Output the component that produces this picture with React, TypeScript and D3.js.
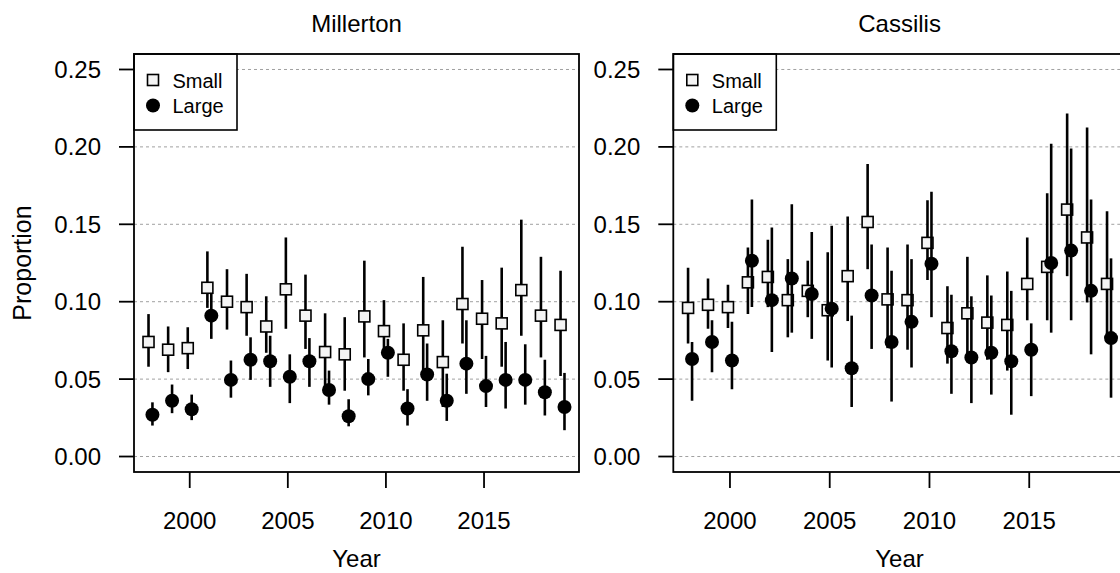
import React from "react";
import { scaleLinear } from "d3";

const years = [1998, 1999, 2000, 2001, 2002, 2003, 2004, 2005, 2006, 2007, 2008, 2009, 2010, 2011, 2012, 2013, 2014, 2015, 2016, 2017, 2018, 2019];

// Millerton
const millSmall = [0.074, 0.069, 0.070, 0.109, 0.100, 0.0965, 0.084, 0.108, 0.091, 0.0675, 0.066, 0.0905, 0.081, 0.0625, 0.0815, 0.061, 0.0985, 0.089, 0.086, 0.1075, 0.091, 0.085];
const millSmallLo = [0.058, 0.0545, 0.0565, 0.096, 0.082, 0.078, 0.067, 0.0825, 0.0695, 0.0425, 0.0425, 0.064, 0.067, 0.0425, 0.0535, 0.032, 0.073, 0.063, 0.058, 0.078, 0.064, 0.052];
const millSmallHi = [0.092, 0.084, 0.0835, 0.1325, 0.121, 0.118, 0.1035, 0.1415, 0.1175, 0.0925, 0.090, 0.1265, 0.101, 0.086, 0.116, 0.088, 0.1355, 0.114, 0.122, 0.153, 0.129, 0.120];
const millLarge = [0.027, 0.036, 0.0305, 0.091, 0.0495, 0.0625, 0.0615, 0.0515, 0.0615, 0.043, 0.026, 0.050, 0.067, 0.031, 0.053, 0.036, 0.060, 0.0455, 0.0495, 0.0495, 0.0415, 0.032];
const millLargeLo = [0.020, 0.028, 0.0235, 0.076, 0.038, 0.0495, 0.045, 0.0345, 0.045, 0.0335, 0.0195, 0.0395, 0.0515, 0.020, 0.036, 0.023, 0.0405, 0.032, 0.031, 0.0335, 0.0265, 0.017];
const millLargeHi = [0.035, 0.0465, 0.040, 0.105, 0.062, 0.077, 0.078, 0.066, 0.0765, 0.0555, 0.037, 0.063, 0.076, 0.0435, 0.073, 0.0535, 0.088, 0.065, 0.074, 0.0725, 0.0625, 0.054];

// Cassilis
const cassSmall = [0.096, 0.098, 0.0965, 0.1125, 0.116, 0.101, 0.107, 0.0945, 0.1165, 0.1515, 0.1015, 0.101, 0.138, 0.083, 0.0925, 0.0865, 0.085, 0.1115, 0.1225, 0.1595, 0.1415, 0.1115];
const cassSmallLo = [0.073, 0.0825, 0.083, 0.092, 0.0965, 0.077, 0.090, 0.062, 0.0875, 0.121, 0.070, 0.069, 0.114, 0.060, 0.061, 0.0625, 0.0555, 0.088, 0.088, 0.1165, 0.0995, 0.074];
const cassSmallHi = [0.122, 0.115, 0.111, 0.135, 0.140, 0.1275, 0.1265, 0.132, 0.155, 0.189, 0.135, 0.137, 0.1655, 0.110, 0.129, 0.117, 0.1195, 0.1415, 0.170, 0.2215, 0.2125, 0.1585];
const cassLarge = [0.063, 0.074, 0.062, 0.1265, 0.101, 0.115, 0.105, 0.0955, 0.057, 0.104, 0.074, 0.087, 0.1245, 0.068, 0.064, 0.067, 0.0615, 0.069, 0.125, 0.133, 0.107, 0.0765];
const cassLargeLo = [0.036, 0.0545, 0.0435, 0.0965, 0.0675, 0.080, 0.076, 0.0575, 0.032, 0.0695, 0.0355, 0.0575, 0.090, 0.0405, 0.0345, 0.040, 0.027, 0.039, 0.080, 0.088, 0.066, 0.038];
const cassLargeHi = [0.074, 0.088, 0.087, 0.166, 0.148, 0.163, 0.145, 0.149, 0.091, 0.137, 0.120, 0.1275, 0.171, 0.1045, 0.1035, 0.104, 0.107, 0.086, 0.202, 0.199, 0.166, 0.128];

const yTicks = [0, 0.05, 0.1, 0.15, 0.2, 0.25];
const xTicks = [2000, 2005, 2010, 2015];
const legendLabels = ["Small", "Large"];

const FONT = "'Liberation Sans', Arial, sans-serif";

function Panel({ title, left, right, small, smallLo, smallHi, large, largeLo, largeHi, yLabel }) {
    const top = 54;
    const bottom = 472;
    const x = scaleLinear().domain([1997.16, 2019.84]).range([left, right]);
    const y = scaleLinear().domain([-0.01, 0.26]).range([bottom, top]);
    const cx = (left + right) / 2;
    const off = 0.1;

    return (
        <g fontFamily={FONT} fill="#000">
            <defs>
                <clipPath id={`clip-${title}`}>
                    <rect x={left} y={top} width={right - left} height={bottom - top} />
                </clipPath>
            </defs>

            {/* grid */}
            {yTicks.map(t => (
                <line key={`g${t}`} x1={left} x2={right} y1={y(t)} y2={y(t)}
                    stroke="#a0a0a0" strokeWidth={1} strokeDasharray="3,3" />
            ))}

            <g clipPath={`url(#clip-${title})`}>
                {years.map((yr, i) => (
                    <g key={`s${yr}`}>
                        <line x1={x(yr - off)} x2={x(yr - off)} y1={y(smallLo[i])} y2={y(smallHi[i])}
                            stroke="#000" strokeWidth={2.6} />
                        <rect x={x(yr - off) - 5.5} y={y(small[i]) - 5.5} width={11} height={11}
                            fill="#f4f4f4" stroke="#000" strokeWidth={1.6} />
                    </g>
                ))}
                {years.map((yr, i) => (
                    <g key={`l${yr}`}>
                        <line x1={x(yr + off)} x2={x(yr + off)} y1={y(largeLo[i])} y2={y(largeHi[i])}
                            stroke="#000" strokeWidth={2.6} />
                        <circle cx={x(yr + off)} cy={y(large[i])} r={7} fill="#000" />
                    </g>
                ))}
            </g>

            {/* legend */}
            <rect x={left} y={top} width={103} height={76} fill="#fff" stroke="#000" strokeWidth={1.6} />
            <rect x={left + 13.5} y={74.5} width={11} height={11} fill="#f4f4f4" stroke="#000" strokeWidth={1.6} />
            <circle cx={left + 19} cy={105.5} r={7} fill="#000" />
            <text x={left + 38.5} y={87.5} fontSize={20}>{legendLabels[0]}</text>
            <text x={left + 38.5} y={112.5} fontSize={20}>{legendLabels[1]}</text>

            {/* box */}
            <rect x={left} y={top} width={right - left} height={bottom - top} fill="none" stroke="#000" strokeWidth={1.8} />

            {/* y axis */}
            {yTicks.map(t => (
                <g key={`y${t}`}>
                    <line x1={left - 15} x2={left} y1={y(t)} y2={y(t)} stroke="#000" strokeWidth={1.8} />
                    <text x={left - 33} y={y(t) + 8.5} fontSize={24} textAnchor="end">{t.toFixed(2)}</text>
                </g>
            ))}

            {/* x axis */}
            {xTicks.map(t => (
                <g key={`x${t}`}>
                    <line x1={x(t)} x2={x(t)} y1={bottom} y2={bottom + 16} stroke="#000" strokeWidth={1.8} />
                    <text x={x(t)} y={528.5} fontSize={24} textAnchor="middle">{t}</text>
                </g>
            ))}

            <text x={cx} y={31.5} fontSize={24} textAnchor="middle">{title}</text>
            <text x={cx} y={567} fontSize={24} textAnchor="middle">Year</text>
            {yLabel ? (
                <text transform={`translate(31, ${(top + bottom) / 2}) rotate(-90)`} fontSize={25} textAnchor="middle">{yLabel}</text>
            ) : null}
        </g>
    );
}

export default function App() {
    return (
        <svg width={1120} height={573} style={{ position: "absolute", left: 0, top: 0, background: "#fff" }}>
            <rect width={1120} height={573} fill="#fff" />
            <Panel title="Millerton" left={134} right={579}
                small={millSmall} smallLo={millSmallLo} smallHi={millSmallHi}
                large={millLarge} largeLo={millLargeLo} largeHi={millLargeHi} yLabel="Proportion" />
            <Panel title="Cassilis" left={673.3} right={1125.8}
                small={cassSmall} smallLo={cassSmallLo} smallHi={cassSmallHi}
                large={cassLarge} largeLo={cassLargeLo} largeHi={cassLargeHi} yLabel={null} />
        </svg>
    );
}
